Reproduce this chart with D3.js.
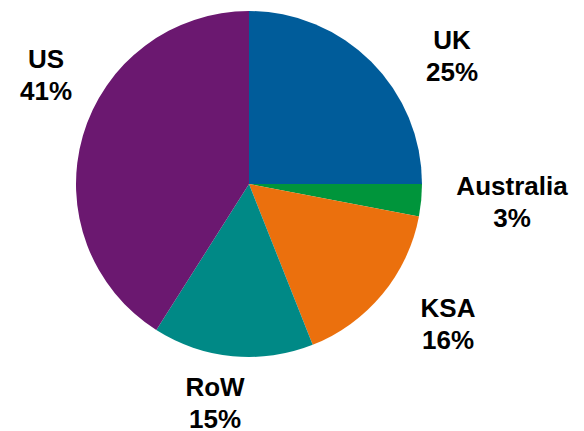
<!DOCTYPE html>
<html>
<head>
<meta charset="utf-8">
<script src="https://cdn.jsdelivr.net/npm/d3@7"></script>
<style>
  body { margin: 0; background: #fff; }
  text { font-family: "Liberation Sans", Arial, sans-serif; font-weight: bold; font-size: 26px; fill: #000; }
</style>
</head>
<body>
<svg width="584" height="431"></svg>
<script>
const regions = ["UK", "Australia", "KSA", "RoW", "US"];
const shares = [25, 3, 16, 15, 41];
const colours = ["#005c9a", "#00953b", "#eb700d", "#008986", "#6b1870"];
// label anchor points (centre of first line baseline), placed like the original
const labelX = [452, 512, 448, 215, 46];
const labelY = [49, 195, 317, 396, 68];

const width = 584, height = 431;
const cx = 249, cy = 184, radius = 173;

const svg = d3.select("svg");
const g = svg.append("g").attr("transform", `translate(${cx},${cy})`);

const pie = d3.pie().sort(null).value(d => d);
const arc = d3.arc().innerRadius(0).outerRadius(radius);

const color = d3.scaleOrdinal().domain(regions).range(colours);

const arcs = pie(shares);

g.selectAll("path")
  .data(arcs)
  .enter()
  .append("path")
  .attr("d", arc)
  .attr("fill", (d, i) => color(regions[i]));

const labels = svg.selectAll("text.label")
  .data(arcs)
  .enter()
  .append("text")
  .attr("class", "label")
  .attr("text-anchor", "middle")
  .attr("x", (d, i) => labelX[i])
  .attr("y", (d, i) => labelY[i]);

labels.append("tspan")
  .attr("x", (d, i) => labelX[i])
  .text((d, i) => regions[i]);
labels.append("tspan")
  .attr("x", (d, i) => labelX[i])
  .attr("dy", 32)
  .text(d => d.data + "%");
</script>
</body>
</html>
